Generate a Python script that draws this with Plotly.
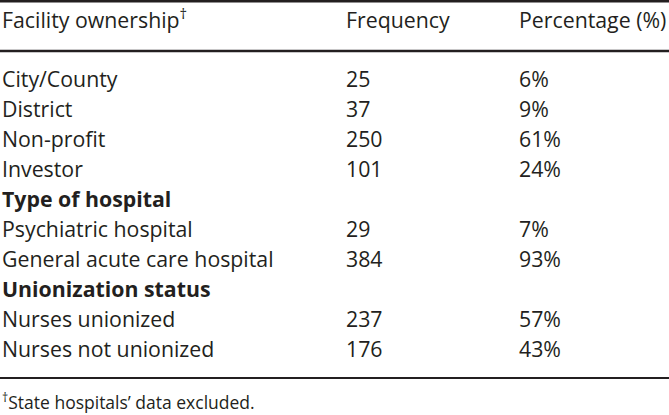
import plotly.graph_objects as go

# table content
header = ["Facility ownership<sup>†</sup>", "Frequency", "Percentage (%)"]
labels = ["City/County", "District", "Non-profit", "Investor",
          "<b>Type of hospital</b>", "Psychiatric hospital", "General acute care hospital",
          "<b>Unionization status</b>", "Nurses unionized", "Nurses not unionized"]
frequency = ["25", "37", "250", "101", "", "29", "384", "", "237", "176"]
percentage = ["6%", "9%", "61%", "24%", "", "7%", "93%", "", "57%", "43%"]
footnote = "<sup>†</sup>State hospitals’ data excluded."

W, H = 669, 415
font = "Open Sans"
ink = "#231f20"
size = 21.3

col_x = [2, 346, 519]
header_y = 23
row_y = [82 + 30 * i for i in range(len(labels))]

fig = go.Figure()

fig.add_trace(go.Scatter(x=col_x, y=[header_y] * 3, text=header, mode="text",
                         textposition="middle right",
                         textfont=dict(family=font, size=size, color=ink)))
for cx, col in zip(col_x, [labels, frequency, percentage]):
    keep = [i for i, t in enumerate(col) if t]
    fig.add_trace(go.Scatter(x=[cx] * len(keep), y=[row_y[i] for i in keep],
                             text=[col[i] for i in keep], mode="text",
                             textposition="middle right",
                             textfont=dict(family=font, size=size, color=ink)))
fig.add_trace(go.Scatter(x=[2], y=[405], text=[footnote], mode="text",
                         textposition="middle right",
                         textfont=dict(family=font, size=17.5, color=ink)))

# rules
for y, w in [(1.2, 2.5), (51, 2.5), (378, 2)]:
    fig.add_shape(type="line", x0=0, x1=W, y0=y, y1=y,
                  line=dict(color=ink, width=w))

fig.update_layout(
    width=W, height=H, margin=dict(l=0, r=0, t=0, b=0),
    paper_bgcolor="white", plot_bgcolor="white", showlegend=False,
    xaxis=dict(range=[0, W], visible=False, fixedrange=True),
    yaxis=dict(range=[H, 0], visible=False, fixedrange=True),
)

fig.write_html("out.html", config={"displayModeBar": False},
               post_script="document.body.style.margin='0';")
